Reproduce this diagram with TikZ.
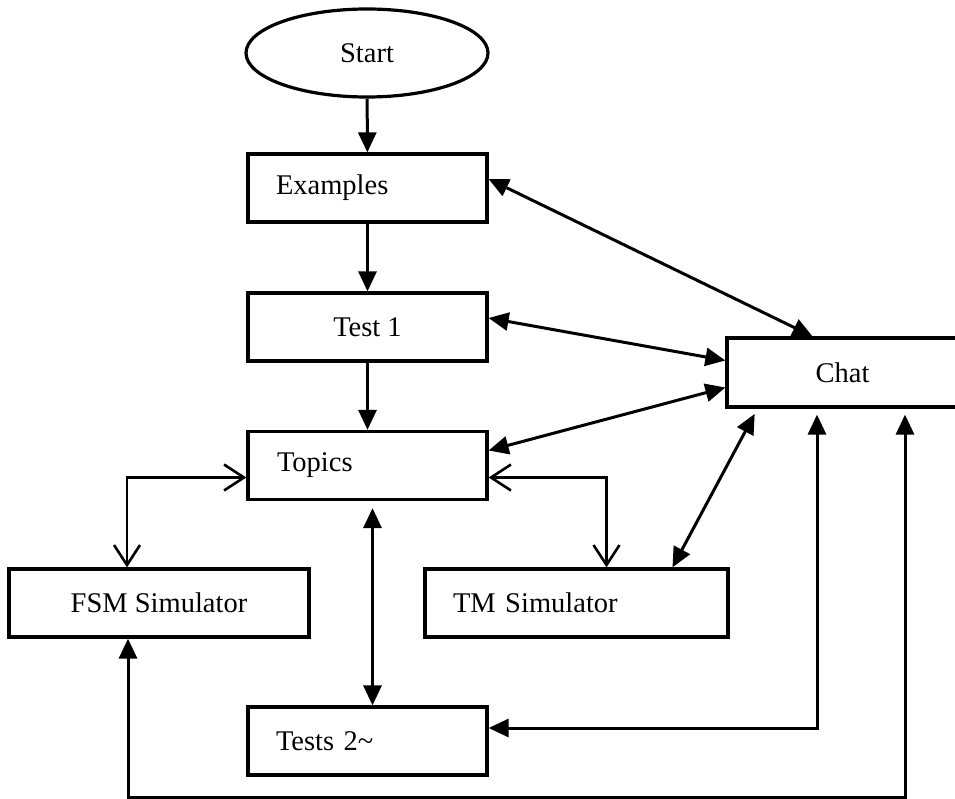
\documentclass[tikz,border=0pt]{standalone}
\usepackage{fontspec}
\setmainfont{Liberation Serif}
\usetikzlibrary{arrows.meta,shapes.geometric}
\begin{document}
\begin{tikzpicture}[x=1pt,y=-1pt,
  txt/.style={font=\fontsize{28.5}{31}\selectfont},
  box/.style={draw, line width=3.2pt, inner ysep=0pt, minimum height=68pt, txt},
  cbox/.style={box, align=center},
  lbox/.style={box, align=left, inner xsep=28pt},
  tri/.tip={Triangle[length=20pt,width=18pt]},
  arr/.style={line width=3pt, -tri},
  dbl/.style={line width=3pt, tri-tri},
  barb/.style={line width=2.6pt, {Straight Barb[length=20pt,width=26pt]}-{Straight Barb[length=20pt,width=26pt]}}]
\useasboundingbox (0,0) rectangle (955,799);
\clip (0,0) rectangle (955,799);
\fill[white] (0,0) rectangle (955,799);

\node[draw, ellipse, line width=3.2pt, minimum width=242pt, minimum height=88pt, inner sep=0pt, txt] (start) at (367,53) {Start};
\node[lbox, text width=183pt] (examples) at (367.5,188) {Examples};
\node[cbox, minimum width=239pt] (test1) at (367.5,327) {Test 1};
\node[lbox, inner xsep=29pt, text width=181pt] (topics) at (367.5,465.5) {Topics};
\node[cbox, minimum width=231pt, minimum height=69pt] (chat) at (842.5,372.5) {Chat};
\node[cbox, minimum width=300pt] (fsm) at (159,603) {FSM Simulator};
\node[lbox, text width=247pt] (tm) at (576.5,603) {TM Simulator};
\node[lbox, text width=183pt] (tests2) at (367.5,741) {Tests 2\textasciitilde};

\draw[arr] (start) -- (examples);
\draw[arr] (examples) -- (test1);
\draw[arr] (test1) -- (topics);
\draw[dbl] ([yshift=9pt]examples.east) -- ([xshift=-30pt]chat.north);
\draw[dbl] ([yshift=9pt]test1.east) -- ([yshift=12pt]chat.west);
\draw[dbl] ([yshift=15pt]topics.east) -- ([yshift=-15pt]chat.west);
\draw[dbl, shorten <=6pt] ([xshift=-85pt]chat.south) -- ([xshift=96pt]tm.north);
\draw[barb] ([yshift=-12pt]topics.west) -| ([xshift=-32pt]fsm.north);
\draw[barb] ([yshift=-12pt]topics.east) -| ([xshift=30pt]tm.north);
\draw[dbl, shorten <=7pt] ([xshift=5pt]topics.south) -- ([xshift=5pt]tests2.north);
\draw[dbl, shorten <=6pt] ([xshift=-25.5pt]chat.south) |- ([yshift=13pt]tests2.east);
\coordinate (bottom) at (0,797);
\coordinate (cf) at ([xshift=62.5pt]chat.south);
\coordinate (ff) at ([xshift=-31pt]fsm.south);
\draw[dbl, shorten <=6pt] (cf) -- (cf |- bottom) -| (ff);
\end{tikzpicture}
\end{document}
